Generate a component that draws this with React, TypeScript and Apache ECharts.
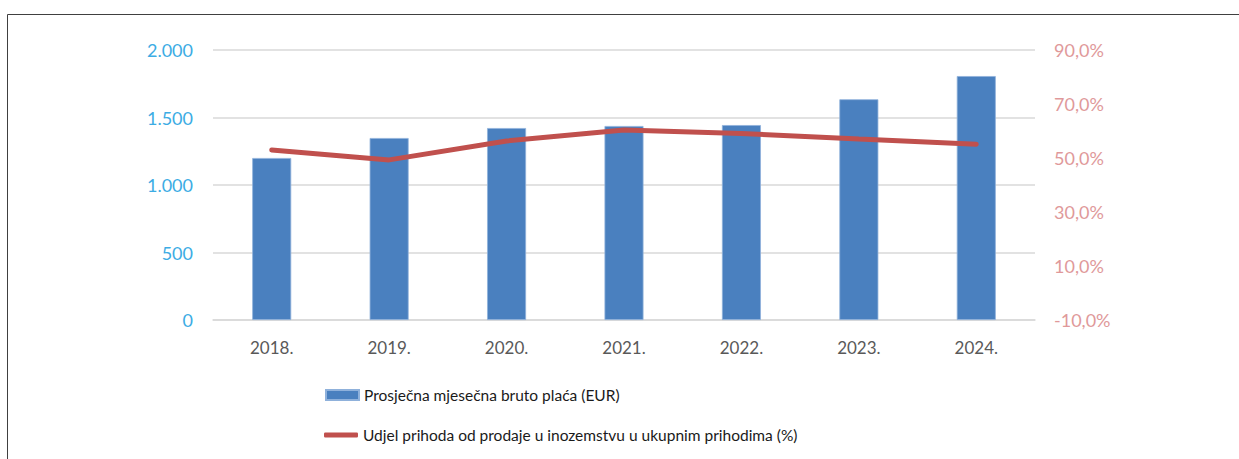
import React, { useEffect, useRef } from "react";
import * as echarts from "echarts";

const years = ["2018.", "2019.", "2020.", "2021.", "2022.", "2023.", "2024."];
const avgGrossSalary = [1200, 1348, 1422, 1437, 1444, 1635, 1807];
const foreignSalesShare = [53.0, 49.3, 56.3, 60.4, 59.1, 57.0, 55.1];
const barName = "Prosječna mjesečna bruto plaća (EUR)";
const lineName = "Udjel prihoda od prodaje u inozemstvu u ukupnim prihodima (%)";

const FONT = "Lato, 'Liberation Sans', sans-serif";

export default function App() {
  const ref = useRef<HTMLDivElement>(null);
  useEffect(() => {
    if (!ref.current) return;
    const chart = echarts.init(ref.current, undefined, { renderer: "svg" });
    chart.setOption({
      animation: false,
      backgroundColor: "#ffffff",
      textStyle: { fontFamily: FONT },
      graphic: [
        {
          type: "rect",
          shape: { x: 7.5, y: 14.5, width: 1260, height: 500 },
          style: { fill: "none", stroke: "#404040", lineWidth: 1 },
          silent: true,
        },
      ],
      grid: { left: 213, right: 204, top: 50, bottom: 139, containLabel: false },
      legend: [
        {
          data: [{ name: barName, icon: "rect" }],
          left: 325,
          top: 387,
          padding: 0,
          itemWidth: 33,
          itemHeight: 10,
          textStyle: { fontSize: 15.5, color: "#1a1a1a", fontFamily: FONT },
        },
        {
          data: [{ name: lineName, icon: "roundRect" }],
          left: 324,
          top: 427,
          padding: 0,
          itemWidth: 34,
          itemHeight: 5,
          textStyle: { fontSize: 15.5, color: "#1a1a1a", fontFamily: FONT },
        },
      ],
      xAxis: {
        type: "category",
        data: years,
        axisTick: { show: false },
        axisLine: { lineStyle: { color: "#d9d9d9", width: 1.5 } },
        axisLabel: { color: "#595959", fontSize: 17, margin: 19, fontFamily: FONT },
      },
      yAxis: [
        {
          type: "value",
          min: 0,
          max: 2000,
          interval: 500,
          axisLine: { show: false },
          axisTick: { show: false },
          splitLine: { lineStyle: { color: "#d9d9d9", width: 1.5 } },
          axisLabel: {
            color: "#3cace4",
            fontSize: 18,
            margin: 20,
            fontFamily: FONT,
            formatter: (v: number) => v.toLocaleString("de-DE"),
          },
        },
        {
          type: "value",
          min: -10,
          max: 90,
          interval: 20,
          position: "right",
          axisLine: { show: false },
          axisTick: { show: false },
          splitLine: { show: false },
          axisLabel: {
            color: "#e0999a",
            fontSize: 18,
            margin: 19,
            fontFamily: FONT,
            formatter: (v: number) => v.toFixed(1).replace(".", ",") + "%",
          },
        },
      ],
      series: [
        {
          name: barName,
          type: "bar",
          data: avgGrossSalary,
          barWidth: 39,
          itemStyle: { color: "#4a80bf", borderColor: "#8fb1db", borderWidth: 0.8 },
        },
        {
          name: lineName,
          type: "line",
          yAxisIndex: 1,
          data: foreignSalesShare,
          symbol: "none",
          lineStyle: { color: "#c0504d", width: 5, cap: "round" },
          itemStyle: { color: "#c0504d" },
        },
      ],
    });
    return () => chart.dispose();
  }, []);
  return (
    <div
      ref={ref}
      style={{ position: "absolute", left: 0, top: 0, width: 1239, height: 459 }}
    />
  );
}
